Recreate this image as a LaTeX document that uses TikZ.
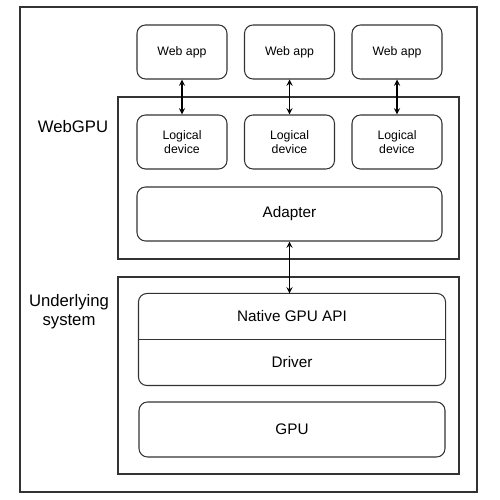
\documentclass[tikz,border=0pt]{standalone}
\usepackage{fontspec}
\setmainfont{Liberation Sans}
\usetikzlibrary{arrows}
\begin{document}
\begin{tikzpicture}[
            frame/.style={
                rectangle,
                draw=black!80,
                line width=0.6pt
            },
            layer/.style={
                rectangle,
                draw=black!80,
                line width=0.6pt,
                minimum width=6.82cm,
                inner sep=0pt
            },
            block/.style={
                rectangle,
                rounded corners=0.17cm,
                draw=black!80,
                line width=0.6pt,
                minimum width=1.8cm,
                minimum height=1.08cm,
                align=center,
                font=\fontsize{7}{8.4}\selectfont
            },
            wide/.style={
                block,
                minimum width=6.1cm,
                font=\fontsize{8.7}{10}\selectfont
            },
            label/.style={
                align=center,
                font=\fontsize{9.5}{11}\selectfont
            },
            arrow/.style={<->, >=stealth, line width=0.6pt}
        ]
        \useasboundingbox (0,0) rectangle (10,10);

        % Outer frame
        \draw[frame] (0.4,0.16) rectangle (9.54,9.86);

        % Layer boxes
        \node[layer, minimum height=3.24cm] (webgpu) at (5.77,6.44) {};
        \node[layer, minimum height=3.94cm] (system) at (5.77,2.49) {};

        % Layer titles
        \node[label] (t1) at (1.46,7.46) {WebGPU};
        \node[label] (t2) at (1.38,3.76) {Underlying\\system};

        % Web apps
        \node[block] (app1) at (3.64,8.96) {Web app};
        \node[block] (app2) at (5.79,8.96) {Web app};
        \node[block] (app3) at (7.94,8.96) {Web app};

        % Logical devices
        \node[block] (dev1) at (3.64,7.16) {Logical\\device};
        \node[block] (dev2) at (5.79,7.16) {Logical\\device};
        \node[block] (dev3) at (7.94,7.16) {Logical\\device};

        % Adapter
        \node[wide] (adapter) at (5.79,5.72) {Adapter};

        % Native API and driver share one rounded box
        \node[wide, draw=none, minimum width=6.12cm, minimum height=0.9cm] (native) at (5.84,3.67) {Native GPU API};
        \node[wide, draw=none, minimum width=6.12cm, minimum height=0.92cm] (driver) at (5.84,2.76) {Driver};
        \draw[black!80, line width=0.6pt, rounded corners=0.17cm] (native.north west) rectangle (driver.south east);
        \draw[black!80, line width=0.6pt] (native.south west) -- (native.south east);

        % GPU
        \node[wide, minimum width=6.12cm, minimum height=1.1cm] (gpu) at (5.84,1.41) {GPU};

        % Connecting arrows
        \draw[arrow] (app1.south) -- (dev1.north);
        \draw[arrow] (app2.south) -- (dev2.north);
        \draw[arrow] (app3.south) -- (dev3.north);
        \draw[arrow] (adapter.south) -- (adapter.south |- native.north);

\end{tikzpicture}
\end{document}
